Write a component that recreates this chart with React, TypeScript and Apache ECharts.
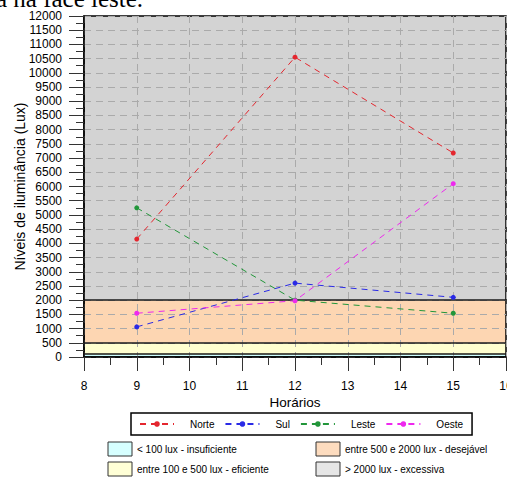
import React, { useEffect, useRef } from "react";
import * as echarts from "echarts";

const hours = [9, 12, 15];
const seriesNames = ["Norte", "Sul", "Leste", "Oeste"];
const norte = [4150, 10550, 7180];
const sul = [1060, 2600, 2100];
const leste = [5250, 2000, 1540];
const oeste = [1540, 1980, 6100];
const seriesValues = [norte, sul, leste, oeste];
const seriesColors = ["#e4262e", "#2a2ae6", "#22963a", "#ee28ee"];

const bandLimits = [0, 100, 500, 2000, 12000];
const bandColors = ["#ccffff", "#ffffd0", "#fdd6b2", "#d3d3d3"];
const bandLegendColors = ["#d6ffff", "#ffffd6", "#fddcbf", "#e6e6e6"];
const bandLabels = [
  "< 100 lux - insuficiente",
  "entre 100 e 500 lux - eficiente",
  "entre 500 e 2000 lux - desejável",
  "> 2000 lux - excessiva",
];
const thresholdLines = [100, 500, 2000];

const FONT = "'Liberation Sans', Arial, sans-serif";

export default function App() {
  const ref = useRef<HTMLDivElement>(null);
  useEffect(() => {
    document.body.style.margin = "0";
    const chart = echarts.init(ref.current!, null, { renderer: "svg" });

    const dataSeries = seriesNames.map((name, i) => ({
      name,
      type: "line",
      z: 3,
      data: hours.map((h, j) => [h, seriesValues[i][j]]),
      symbol: "circle",
      symbolSize: 5,
      color: seriesColors[i],
      lineStyle: { type: [6, 5], width: 1, color: seriesColors[i] },
      itemStyle: { color: seriesColors[i] },
    }));

    const bandSeries = {
      name: "bands",
      type: "line",
      z: 1,
      data: [],
      silent: true,
      markArea: {
        silent: true,
        z: 1,
        data: bandColors.map((c, i) => [
          { yAxis: bandLimits[i], itemStyle: { color: c } },
          { yAxis: bandLimits[i + 1] },
        ]),
      },
      markLine: {
        silent: true,
        z: 3,
        symbol: "none",
        label: { show: false },
        lineStyle: { color: "#1a1a1a", type: "solid", width: 1.5 },
        data: thresholdLines.map((v) => ({ yAxis: v })),
      },
    };

    const legendCols = [108, 316];
    const legendRows = [442, 462];
    const graphics: any[] = [
      {
        type: "text",
        left: -4,
        top: -14,
        style: {
          text: "a na face leste.",
          fontFamily: "'Liberation Serif', 'Times New Roman', serif",
          fontSize: 25,
          fill: "#000",
        },
      },
    ];
    bandLabels.forEach((lab, i) => {
      const col = i < 2 ? 0 : 1;
      const row = i % 2;
      const x = legendCols[col];
      const y = legendRows[row];
      graphics.push({
        type: "rect",
        shape: { x, y, width: 24, height: 14 },
        style: { fill: bandLegendColors[i], stroke: "#333", lineWidth: 1 },
      });
      graphics.push({
        type: "text",
        x: x + 29,
        y: y + 7,
        style: {
          text: lab,
          fontFamily: FONT,
          fontSize: 10,
          fill: "#000",
          verticalAlign: "middle",
          align: "left",
        },
      });
    });

    chart.setOption({
      animation: false,
      grid: {
        left: 84,
        top: 16,
        right: 1,
        bottom: 120,
        show: true,
        z: 2,
        outerBoundsMode: "none",
        containLabel: false,
        borderColor: "#000",
        borderWidth: 1.5,
        backgroundColor: "transparent",
      },
      legend: {
        data: seriesNames,
        left: 131,
        top: 413,
        padding: [6, 9, 6, 8],
        borderColor: "#000",
        borderWidth: 1.5,
        itemWidth: 34,
        itemHeight: 7,
        itemGap: 10,
        textStyle: {
          fontFamily: FONT,
          fontSize: 10,
          color: "#000",
          padding: [0, 0, 0, 11],
        },
      },
      xAxis: {
        type: "value",
        min: 8,
        max: 16,
        interval: 1,
        z: 2,
        name: "Horários",
        nameLocation: "middle",
        nameGap: 38,
        nameMoveOverlap: false,
        nameTextStyle: { fontFamily: FONT, fontSize: 13.5, color: "#000" },
        axisLine: { onZero: false, lineStyle: { color: "#000", width: 1.5 } },
        axisTick: { inside: false, length: 14, lineStyle: { color: "#333", width: 1 } },
        minorTick: { show: true, splitNumber: 2, length: 8, lineStyle: { color: "#333", width: 1 } },
        axisLabel: {
          margin: 23,
          fontFamily: FONT,
          fontSize: 12,
          color: "#000",
          formatter: (v: number) => String(v),
        },
        splitLine: { show: true, lineStyle: { color: "#aaaaaa", type: [7, 5], width: 1 } },
      },
      yAxis: {
        type: "value",
        min: 0,
        max: 12000,
        interval: 500,
        z: 2,
        name: "Níveis de iluminância (Lux)",
        nameLocation: "middle",
        nameGap: 57,
        nameMoveOverlap: false,
        nameTextStyle: { fontFamily: FONT, fontSize: 14, color: "#000" },
        axisLine: { show: true, onZero: false, lineStyle: { color: "#000", width: 1.5 } },
        axisTick: { show: true, inside: false, length: 15, lineStyle: { color: "#333", width: 1 } },
        minorTick: { show: true, splitNumber: 2, length: 8, lineStyle: { color: "#333", width: 1 } },
        axisLabel: {
          margin: 22,
          fontFamily: FONT,
          fontSize: 12,
          color: "#000",
          formatter: (v: number) => String(v),
        },
        splitLine: { show: true, lineStyle: { color: "#aaaaaa", type: [7, 5], width: 1 } },
      },
      graphic: graphics,
      series: [bandSeries, ...dataSeries],
    } as any);

    return () => chart.dispose();
  }, []);
  return (
    <div
      ref={ref}
      style={{ position: "absolute", left: 0, top: 0, width: 507, height: 477 }}
    />
  );
}
